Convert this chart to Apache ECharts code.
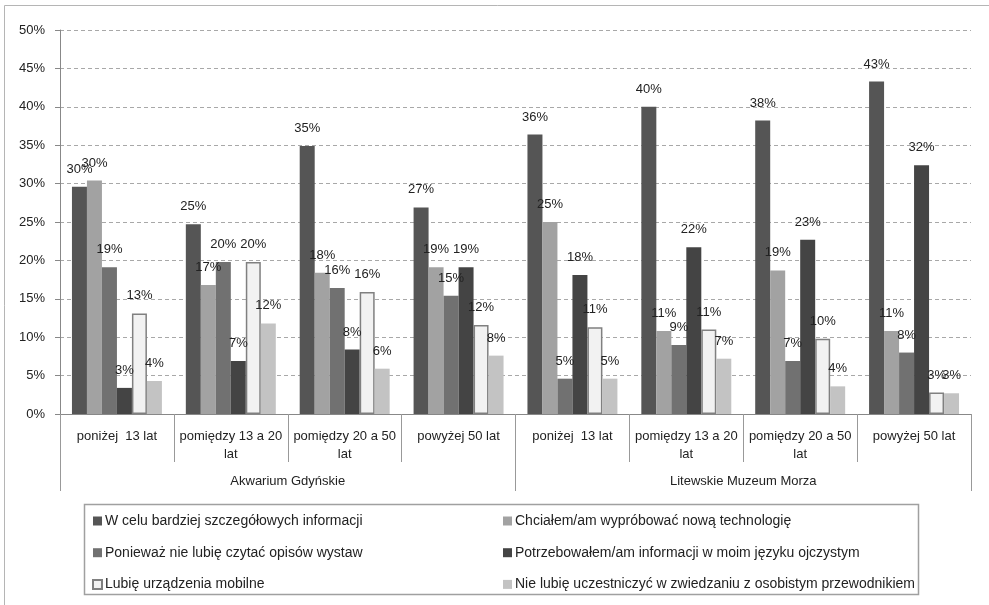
<!DOCTYPE html>
<html>
<head>
<meta charset="utf-8">
<script src="https://cdn.jsdelivr.net/npm/echarts@6/dist/echarts.min.js"></script>
<style>
  html, body { margin: 0; padding: 0; background: #fff; }
  #main { width: 989px; height: 605px; }
</style>
</head>
<body>
<div id="main"></div>
<script>
// kategorie wiekowe i grupy (muzea)
var categories = ['poniżej  13 lat', 'pomiędzy 13 a 20\nlat', 'pomiędzy 20 a 50\nlat', 'powyżej 50 lat',
  'poniżej  13 lat', 'pomiędzy 13 a 20\nlat', 'pomiędzy 20 a 50\nlat', 'powyżej 50 lat'];
var groups = ['Akwarium Gdyńskie', 'Litewskie Muzeum Morza'];

var seriesNames = [
  'W celu bardziej szczegółowych informacji',
  'Chciałem/am wypróbować nową technologię',
  'Ponieważ nie lubię czytać opisów wystaw',
  'Potrzebowałem/am informacji w moim języku ojczystym',
  'Lubię urządzenia mobilne',
  'Nie lubię uczestniczyć w zwiedzaniu z osobistym przewodnikiem'
];

// wartości w %
var szczegoly = [29.6, 24.7, 34.9, 26.9, 36.4, 40.0, 38.2, 43.3];
var technologia = [30.4, 16.8, 18.4, 19.1, 25.0, 10.8, 18.7, 10.8];
var opisy = [19.1, 19.8, 16.4, 15.4, 4.6, 9.0, 6.9, 8.0];
var jezyk = [3.4, 6.9, 8.4, 19.1, 18.1, 21.7, 22.7, 32.4];
var mobilne = [13.1, 19.8, 15.9, 11.6, 11.3, 11.0, 9.8, 2.8];
var przewodnik = [4.3, 11.8, 5.9, 7.6, 4.6, 7.2, 3.6, 2.7];

var yTicks = [0, 5, 10, 15, 20, 25, 30, 35, 40, 45, 50];

var colors = ['#555555', '#a2a2a2', '#717171', '#444444', '#f2f2f2', '#c3c3c3'];
var values = [szczegoly, technologia, opisy, jezyk, mobilne, przewodnik];

var font = '"Liberation Sans", Arial, sans-serif';
var myChart = echarts.init(document.getElementById('main'));

var series = values.map(function (v, i) {
  return {
    name: seriesNames[i],
    type: 'bar',
    data: v,
    barGap: '0%',
    barCategoryGap: '21%',
    itemStyle: {
      color: colors[i],
      borderColor: i === 4 ? '#808080' : colors[i],
      borderWidth: i === 4 ? 1.5 : 0
    },
    label: {
      show: true,
      position: 'top',
      distance: 11,
      color: '#222',
      fontFamily: font,
      fontSize: 13,
      formatter: function (p) { return Math.round(p.value) + '%'; }
    }
  };
});

var legendCommon = {
  orient: 'vertical',
  top: 513,
  padding: 0,
  itemWidth: 9,
  itemHeight: 9,
  itemGap: 15.7,
  icon: 'rect',
  selectedMode: false,
  textStyle: { fontFamily: font, fontSize: 14, color: '#222', lineHeight: 16, padding: [0, 0, 0, -2] }
};

var option = {
  animation: false,
  textStyle: { fontFamily: font },
  graphic: [
    // ramka wykresu
    { type: 'rect', shape: { x: 4.5, y: 5.5, width: 1000, height: 700 },
      style: { fill: 'none', stroke: '#b5b5b5', lineWidth: 1 }, z: -1 },
    // ramka legendy
    { type: 'rect', shape: { x: 84.5, y: 504.5, width: 834, height: 90 },
      style: { fill: 'none', stroke: '#a0a0a0', lineWidth: 1.5 } }
  ],
  legend: [
    Object.assign({ left: 92, data: [seriesNames[0], seriesNames[2], seriesNames[4]] }, legendCommon),
    Object.assign({ left: 503, data: [seriesNames[1], seriesNames[3], seriesNames[5]] }, legendCommon)
  ],
  grid: { left: 60, right: 18, top: 30, bottom: 191 },
  xAxis: [
    {
      type: 'category',
      data: categories,
      axisLine: { lineStyle: { color: '#888' } },
      axisTick: { show: true, interval: 0, length: 48, lineStyle: { color: '#999' } },
      axisLabel: { interval: 0, margin: 13, color: '#222', fontSize: 13, lineHeight: 18, fontFamily: font }
    },
    {
      type: 'category',
      data: groups,
      position: 'bottom',
      axisLine: { show: false },
      axisTick: { show: true, interval: 0, length: 77, lineStyle: { color: '#999' } },
      axisLabel: { interval: 0, margin: 61, color: '#222', fontSize: 13, fontFamily: font }
    }
  ],
  yAxis: {
    type: 'value',
    min: yTicks[0],
    max: yTicks[yTicks.length - 1],
    interval: 5,
    axisLine: { show: true, lineStyle: { color: '#888' } },
    axisTick: { show: true, length: 5, lineStyle: { color: '#888' } },
    axisLabel: { margin: 15, color: '#222', fontSize: 13, fontFamily: font, formatter: '{value}%' },
    splitLine: { lineStyle: { color: '#a8a8a8', type: [4, 3] } }
  },
  series: series
};

myChart.setOption(option);
</script>
</body>
</html>
